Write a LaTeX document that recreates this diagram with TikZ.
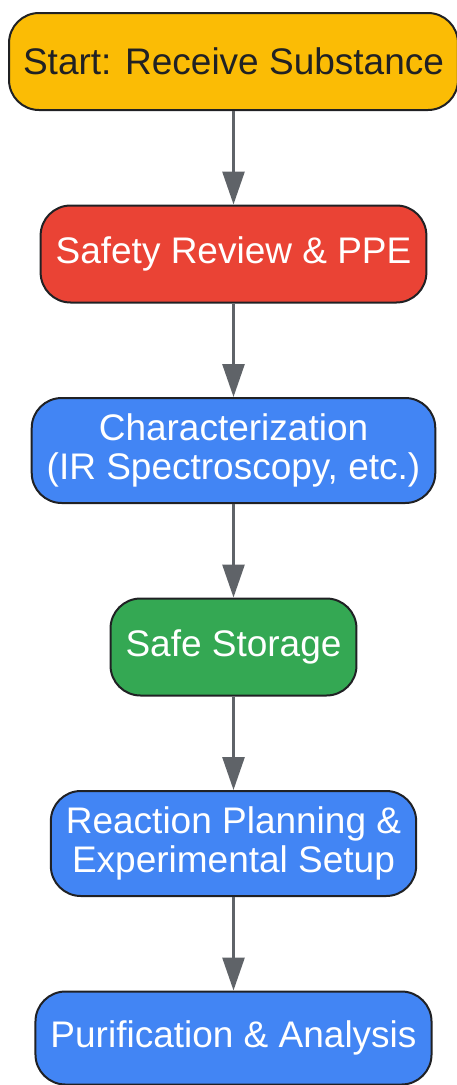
\documentclass[tikz,border=0pt]{standalone}
\usepackage{fontspec}
\setmainfont{Liberation Sans}
\usepackage{xcolor}
\usepackage{tikz}
\usetikzlibrary{arrows.meta}
\usetikzlibrary{positioning}
\definecolor{startyellow}{HTML}{FBBC05}
\definecolor{safetyred}{HTML}{EA4335}
\definecolor{stepblue}{HTML}{4285F4}
\definecolor{storegreen}{HTML}{34A853}
\definecolor{edgegray}{HTML}{5F6368}
\definecolor{darkline}{HTML}{202124}
\begin{document}
\begin{tikzpicture}[x=1pt,y=1pt,
    stage/.style={draw=darkline, line width=2pt, rounded corners=30pt,
        minimum height=97pt, inner xsep=15pt, align=center, text=white,
        font=\fontsize{37pt}{39.5pt}\selectfont},
    flow/.style={draw=edgegray, line width=2.8pt, -{Triangle[length=33pt,width=22pt]}},
    node distance=93.5pt]
    \useasboundingbox (0,0) rectangle (456,-1085);
    % process stages
    \node[stage, fill=startyellow, text=darkline, inner xsep=14pt] (start) at (233.5,-61.5) {Start: Receive Substance};
    \node[stage, fill=safetyred, below=of start] (safety) {Safety Review \& PPE};
    \node[stage, fill=stepblue, minimum height=105pt, below=of safety] (charact) {Characterization\\(IR Spectroscopy, etc.)};
    \node[stage, fill=storegreen, below=of charact] (storage) {Safe Storage};
    \node[stage, fill=stepblue, minimum height=105pt, below=of storage] (planning) {Reaction Planning \&\\Experimental Setup};
    \node[stage, fill=stepblue, minimum height=93pt, below=of planning] (purify) {Purification \& Analysis};
    % arrows
    \foreach \a/\b in {start/safety, safety/charact, charact/storage, storage/planning, planning/purify} {
        \draw[flow] (\a) -- (\b);
    }
\end{tikzpicture}
\end{document}
